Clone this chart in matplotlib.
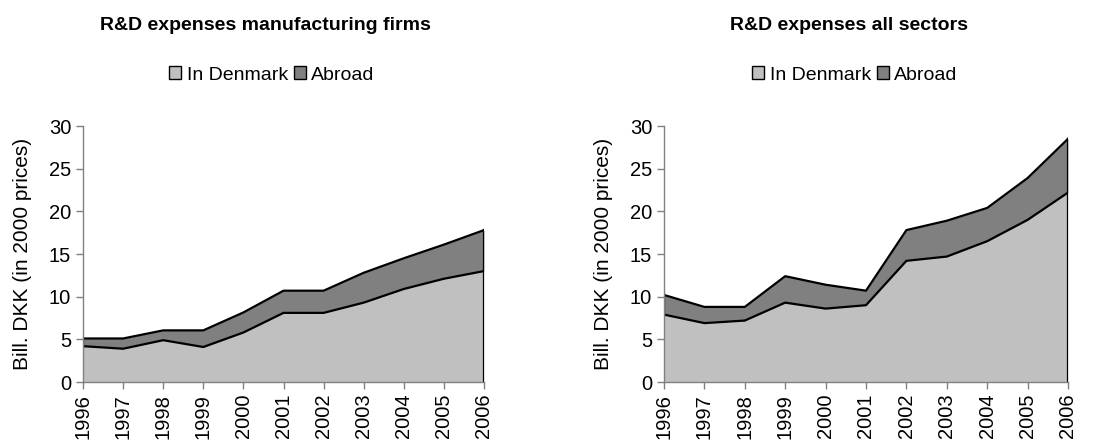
import numpy as np
import matplotlib.pyplot as plt
from matplotlib.patches import Patch

plt.rcParams['font.family'] = ['Liberation Sans', 'DejaVu Sans']

years = np.arange(1996, 2007)

# manufacturing firms, bill. DKK (2000 prices)
manuf_denmark = [4.2, 3.9, 4.9, 4.1, 5.8, 8.1, 8.1, 9.3, 10.9, 12.1, 13.0]
manuf_total = [5.1, 5.1, 6.05, 6.05, 8.15, 10.7, 10.7, 12.8, 14.5, 16.1, 17.8]

# all sectors
all_denmark = [7.9, 6.9, 7.2, 9.3, 8.6, 9.0, 14.2, 14.7, 16.5, 19.0, 22.2]
all_total = [10.2, 8.8, 8.8, 12.4, 11.4, 10.7, 17.8, 18.9, 20.4, 23.9, 28.5]

titles = ["R&D expenses manufacturing firms", "R&D expenses all sectors"]

light = "#c0c0c0"
dark = "#808080"
axis_grey = "#808080"

W, H = 1110, 448
fig = plt.figure(figsize=(W / 100, H / 100), dpi=100)

#axes positions in pixels: left, right, top, bottom
boxes = [(83, 484, 126, 382), (664, 1068, 126, 382)]
title_x = [265, 849]
legend_x = [272, 855]


def draw_panel(ax, denmark, total, title, tx, lx):
    denmark = np.array(denmark)
    total = np.array(total)
    ax.fill_between(years, 0, denmark, color=light, lw=0)
    ax.fill_between(years, denmark, total, color=dark, lw=0)
    ax.plot(years, denmark, color="black", lw=1.6)
    ax.plot(years, total, color="black", lw=1.6)
    ax.plot([years[0], years[0]], [denmark[0], total[0]], color="black", lw=1.6)
    ax.plot([years[-1], years[-1]], [0, total[-1]], color="black", lw=1.6)

    ax.set_xlim(years[0], years[-1])
    ax.set_ylim(0, 30)
    ax.set_yticks(range(0, 31, 5))
    ax.set_xticks(years)
    ax.set_xticklabels([str(y) for y in years], rotation=90)
    for s in ["top", "right"]:
        ax.spines[s].set_visible(False)
    for s in ["left", "bottom"]:
        ax.spines[s].set_color(axis_grey)
        ax.spines[s].set_linewidth(1.0)
    ax.tick_params(axis="both", colors=axis_grey, labelcolor="black",
                   labelsize=14.5, length=5, width=1.0)
    ax.set_ylabel("Bill. DKK (in 2000 prices)", fontsize=15, labelpad=12)

    fig.text(tx / W, 1 - 25 / H, title, ha="center", va="center",
             fontsize=14, fontweight="bold")
    handles = [Patch(facecolor=light, edgecolor="black", lw=1),
               Patch(facecolor=dark, edgecolor="black", lw=1)]
    fig.legend(handles, ["In Denmark", "Abroad"], loc="center",
               bbox_to_anchor=(lx / W, 1 - 75 / H), ncol=2,
               frameon=False, fontsize=14, handlelength=0.6, handleheight=0.6,
               handletextpad=0.3, columnspacing=0.3)


data = [(manuf_denmark, manuf_total), (all_denmark, all_total)]
for i, (l, r, t, b) in enumerate(boxes):
    ax = fig.add_axes([l / W, 1 - b / H, (r - l) / W, (b - t) / H])
    draw_panel(ax, data[i][0], data[i][1], titles[i], title_x[i], legend_x[i])

fig.savefig("out.png", dpi=100)
